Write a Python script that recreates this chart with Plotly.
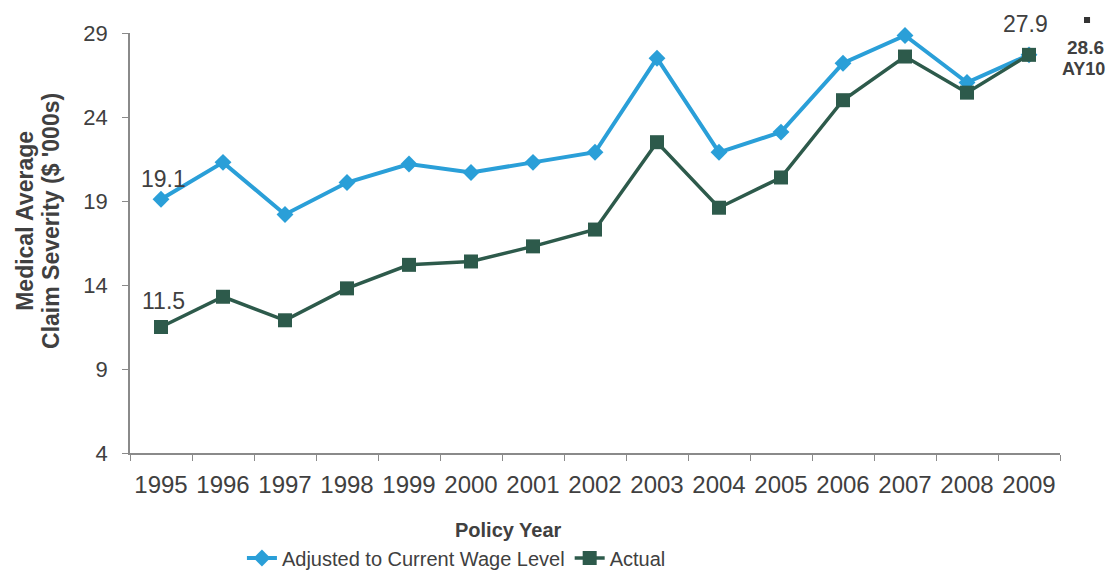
import plotly.graph_objects as go

years = [str(y) for y in range(1995, 2010)]
adjusted = [19.1, 21.3, 18.2, 20.1, 21.2, 20.7, 21.3, 21.9, 27.5, 21.9, 23.1, 27.2, 28.85, 26.05, 27.7]
actual = [11.5, 13.3, 11.9, 13.8, 15.2, 15.4, 16.3, 17.3, 22.5, 18.6, 20.4, 25.0, 27.6, 25.45, 27.7]
y_ticks = [4, 9, 14, 19, 24, 29]

BLUE = "#2A9FD8"
GREEN = "#2D5A4B"
TEXT = "#404040"
FONT = "Arial, Liberation Sans, sans-serif"

fig = go.Figure()
fig.add_trace(go.Scatter(
    x=years, y=adjusted, name="Adjusted to Current Wage Level",
    mode="lines+markers", line=dict(color=BLUE, width=4),
    marker=dict(symbol="diamond", size=13, color=BLUE),
    cliponaxis=False,
))
fig.add_trace(go.Scatter(
    x=years, y=actual, name="Actual",
    mode="lines+markers", line=dict(color=GREEN, width=3.5),
    marker=dict(symbol="square", size=14, color=GREEN),
    cliponaxis=False,
))

last = len(years) - 1
lab = dict(size=23, color=TEXT, family=FONT)
ttl = dict(size=23, color=TEXT, family=FONT)
annos = [
    dict(x=0, y=adjusted[0], text="19.1", xanchor="center", yanchor="bottom", xshift=2, yshift=5, font=lab),
    dict(x=0, y=actual[0], text="11.5", xanchor="center", yanchor="bottom", xshift=2, yshift=11, font=lab),
    dict(x=last, y=actual[-1], text="27.9", xanchor="center", yanchor="bottom", xshift=-4, yshift=16, font=lab),
    dict(xref="paper", yref="paper", x=1.0274, y=0.9655, text="<b>28.6</b>", xanchor="center", yanchor="middle",
         font=dict(size=19, color=TEXT, family=FONT)),
    dict(xref="paper", yref="paper", x=1.0258, y=0.9143, text="<b>AY10</b>", xanchor="center", yanchor="middle",
         font=dict(size=18, color=TEXT, family=FONT)),
    dict(xref="paper", yref="paper", x=-0.1122, y=0.552, textangle=-90,
         text="<b>Medical Average</b>", xanchor="center", yanchor="middle", font=ttl),
    dict(xref="paper", yref="paper", x=-0.0852, y=0.552, textangle=-90,
         text="<b>Claim Severity ($ '000s)</b>", xanchor="center", yanchor="middle", font=ttl),
    dict(xref="paper", yref="paper", x=0.407, y=-0.183,
         text="<b>Policy Year</b>", xanchor="center", yanchor="middle",
         font=dict(size=20, color=TEXT, family=FONT)),
]
for a in annos:
    a.setdefault("showarrow", False)
    fig.add_annotation(**a)

fig.add_shape(type="rect", xref="paper", yref="paper", x0=1.0258, x1=1.0323, y0=1.0238, y1=1.0381,
              fillcolor="#333333", line=dict(width=0))

fig.update_layout(
    width=1106, height=565,
    margin=dict(l=122, r=54, t=25, b=120, autoexpand=False),
    paper_bgcolor="white", plot_bgcolor="white",
    font=dict(family=FONT, color=TEXT, size=18),
    showlegend=True,
    legend=dict(orientation="h", x=0.351, y=-0.25, xanchor="center", yanchor="middle",
                font=dict(size=20, color=TEXT, family=FONT), itemwidth=30,
                traceorder="normal", tracegroupgap=0),
    xaxis=dict(
        type="category", range=[-0.5, last + 0.5], showgrid=False, showline=True,
        linecolor="#8a8a8a", linewidth=1.5, automargin=False,
        ticks="outside", tickson="boundaries", ticklen=6, tickcolor="#8a8a8a",
        tickangle=0, ticklabelstandoff=9,
        tickfont=dict(size=24, color=TEXT, family=FONT),
    ),
    yaxis=dict(
        range=[4, 29], tickvals=y_ticks, showgrid=False, zeroline=False,
        showline=True, linecolor="#8a8a8a", linewidth=1.5, automargin=False,
        ticks="outside", ticklen=6, tickcolor="#8a8a8a", ticklabelstandoff=10,
        tickfont=dict(size=22, color=TEXT, family=FONT),
    ),
)

fig.write_html("out.html")
